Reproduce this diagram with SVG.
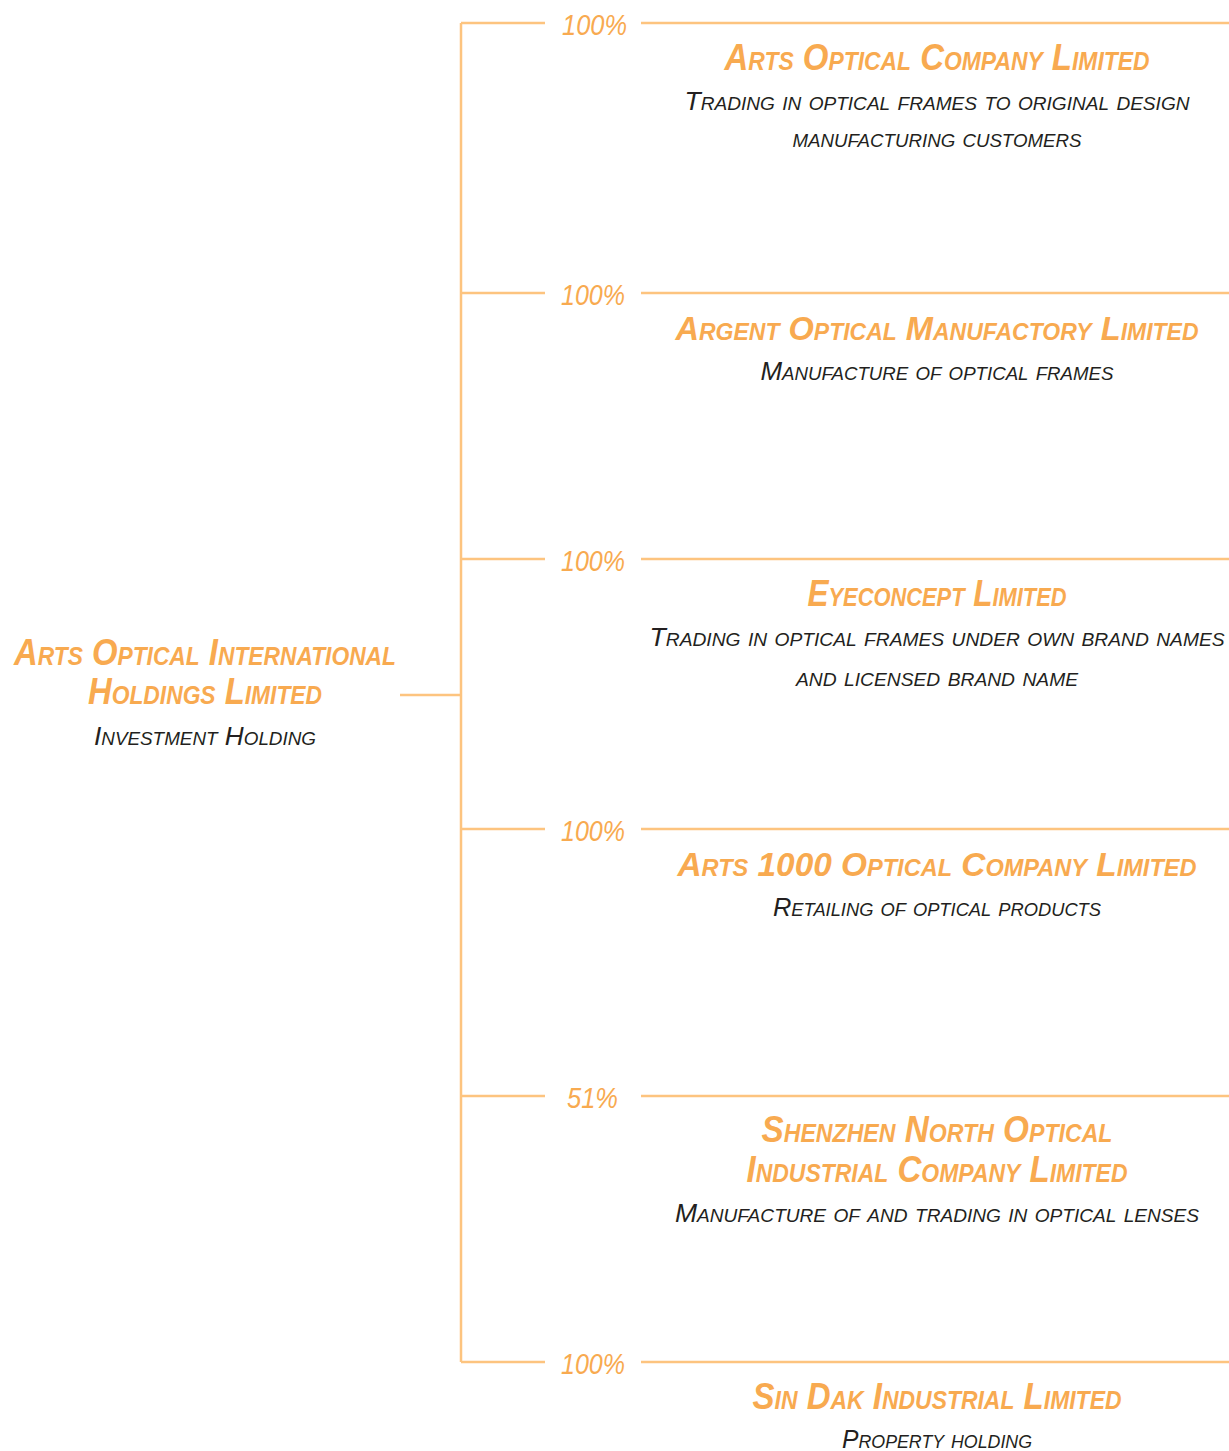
<svg xmlns="http://www.w3.org/2000/svg" width="1229" height="1451" viewBox="0 0 1229 1451">
<style>
.ln{stroke:#FDC47F;stroke-width:2.5;fill:none}
.t{font-family:"Liberation Sans",Arial,sans-serif;font-style:italic;font-weight:bold;font-variant:small-caps;fill:#F8AA50;font-size:36px;text-anchor:middle}
.tl{font-size:34px}
.s{font-family:"Liberation Sans",Arial,sans-serif;font-style:italic;font-variant:small-caps;fill:#231F20;font-size:25px;text-anchor:middle}
.p{font-family:"Liberation Sans",Arial,sans-serif;font-style:italic;font-weight:normal;fill:#F8AA50;font-size:29px}
</style>
<rect width="1229" height="1451" fill="#fff"/>
<g id="connectors">
<path class="ln" d="M461 23V1362M400 695H461"/>
<path class="ln" d="M461 23H545M641 23H1229"/>
<path class="ln" d="M461 293H545M641 293H1229"/>
<path class="ln" d="M461 559H545M641 559H1229"/>
<path class="ln" d="M461 829H545M641 829H1229"/>
<path class="ln" d="M461 1096H545M641 1096H1229"/>
<path class="ln" d="M461 1362H545M641 1362H1229"/>
<text class="p" x="562" y="35" textLength="65" lengthAdjust="spacingAndGlyphs">100%</text>
<text class="p" x="561" y="305" textLength="64" lengthAdjust="spacingAndGlyphs">100%</text>
<text class="p" x="561" y="571" textLength="64" lengthAdjust="spacingAndGlyphs">100%</text>
<text class="p" x="561" y="841" textLength="64" lengthAdjust="spacingAndGlyphs">100%</text>
<text class="p" x="567" y="1108" textLength="51" lengthAdjust="spacingAndGlyphs">51%</text>
<text class="p" x="561" y="1374" textLength="64" lengthAdjust="spacingAndGlyphs">100%</text>
</g>
<g id="parent">
<text class="t" x="205" y="665" textLength="382" lengthAdjust="spacingAndGlyphs">Arts Optical International</text>
<text class="t" x="205" y="704" textLength="234" lengthAdjust="spacingAndGlyphs">Holdings Limited</text>
<text class="s" x="205" y="745" textLength="222" lengthAdjust="spacingAndGlyphs">Investment Holding</text>
</g>
<g id="n1">
<text class="t" x="937" y="70" textLength="425" lengthAdjust="spacingAndGlyphs">Arts Optical Company Limited</text>
<text class="s" x="937" y="110" textLength="505" lengthAdjust="spacingAndGlyphs">Trading in optical frames to original design</text>
<text class="s" x="937" y="147" textLength="289" lengthAdjust="spacingAndGlyphs">manufacturing customers</text>
</g>
<g id="n2">
<text class="t tl" x="937" y="340" textLength="523" lengthAdjust="spacingAndGlyphs">Argent Optical Manufactory Limited</text>
<text class="s" x="937" y="380" textLength="353" lengthAdjust="spacingAndGlyphs">Manufacture of optical frames</text>
</g>
<g id="n3">
<text class="t" x="937" y="606" textLength="259" lengthAdjust="spacingAndGlyphs">Eyeconcept Limited</text>
<text class="s" x="937" y="646" textLength="575" lengthAdjust="spacingAndGlyphs">Trading in optical frames under own brand names</text>
<text class="s" x="937" y="686" textLength="282" lengthAdjust="spacingAndGlyphs">and licensed brand name</text>
</g>
<g id="n4">
<text class="t tl" x="937" y="876" textLength="519" lengthAdjust="spacingAndGlyphs">Arts 1000 Optical Company Limited</text>
<text class="s" x="937" y="916" textLength="328" lengthAdjust="spacingAndGlyphs">Retailing of optical products</text>
</g>
<g id="n5">
<text class="t" x="937" y="1142" textLength="351" lengthAdjust="spacingAndGlyphs">Shenzhen North Optical</text>
<text class="t" x="937" y="1182" textLength="381" lengthAdjust="spacingAndGlyphs">Industrial Company Limited</text>
<text class="s" x="937" y="1222" textLength="524" lengthAdjust="spacingAndGlyphs">Manufacture of and trading in optical lenses</text>
</g>
<g id="n6">
<text class="t" x="937" y="1409" textLength="369" lengthAdjust="spacingAndGlyphs">Sin Dak Industrial Limited</text>
<text class="s" x="937" y="1448" textLength="190" lengthAdjust="spacingAndGlyphs">Property holding</text>
</g>
</svg>
